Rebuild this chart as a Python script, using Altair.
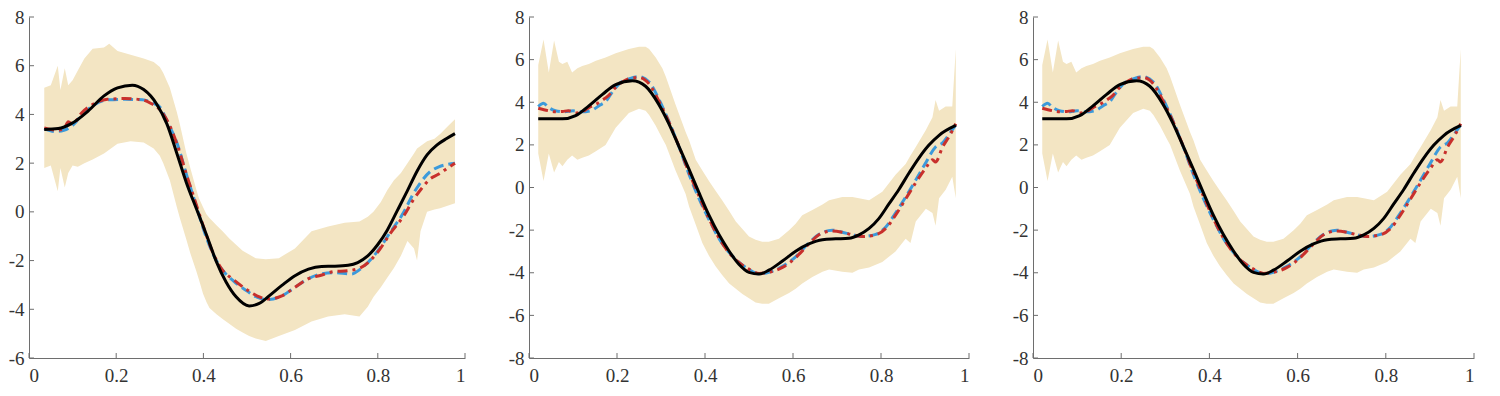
import altair as alt
import pandas as pd

# ---------------- data ----------------
x_ticks = [0, 0.2, 0.4, 0.6, 0.8, 1]
y_ticks_1 = [-6, -4, -2, 0, 2, 4, 6, 8]
y_ticks_2 = [-8, -6, -4, -2, 0, 2, 4, 6, 8]

# Panel 1 band
band1_x = [0.035, 0.05, 0.066, 0.072, 0.082, 0.09, 0.1, 0.112, 0.127, 0.146, 0.172, 0.184, 0.203, 0.233,
           0.263, 0.286, 0.3, 0.308, 0.323, 0.339, 0.346, 0.361, 0.37, 0.384, 0.39, 0.399, 0.407, 0.414,
           0.43, 0.444, 0.46, 0.475, 0.49, 0.505, 0.52, 0.543, 0.573, 0.61, 0.648, 0.686, 0.724, 0.758,
           0.777, 0.79, 0.807, 0.822, 0.837, 0.853, 0.868, 0.883, 0.89, 0.898, 0.913, 0.93, 0.943, 0.96, 0.977]
band1_hi = [5.1, 5.2, 6.0, 5.0, 5.9, 5.2, 5.4, 5.8, 6.3, 6.7, 6.75, 6.9, 6.6, 6.45,
            6.3, 6.15, 5.95, 5.7, 5.1, 4.1, 3.6, 2.4, 1.8, 0.9, 0.55, 0.2, -0.1, -0.25,
            -0.55, -0.8, -1.1, -1.35, -1.6, -1.75, -1.9, -1.95, -1.9, -1.5, -0.8, -0.6, -0.45, -0.4,
            -0.2, 0.0, 0.4, 0.9, 1.3, 1.6, 2.0, 2.4, 2.6, 2.7, 2.9, 3.0, 3.2, 3.5, 3.8]
band1_lo = [1.8, 1.9, 0.85, 1.8, 1.0, 1.6, 1.9, 1.85, 2.0, 2.15, 2.4, 2.55, 2.8, 2.9,
            2.85, 2.6, 2.3, 2.0, 1.3, 0.2, -0.25, -1.15, -1.7, -2.45, -2.8, -3.35, -3.7, -3.95,
            -4.2, -4.4, -4.6, -4.8, -4.95, -5.1, -5.2, -5.3, -5.1, -4.85, -4.5, -4.3, -4.2, -4.3,
            -3.9, -3.5, -3.1, -2.7, -2.3, -1.8, -1.2, -1.5, -2.0, -0.8, 0.0, 0.1, 0.15, 0.25, 0.35]

# Panel 1 true curve (black)
true1_x = [0.035, 0.067, 0.097, 0.135, 0.172, 0.203, 0.237, 0.263, 0.293, 0.316, 0.339, 0.361, 0.384,
           0.407, 0.429, 0.452, 0.475, 0.505, 0.528, 0.55, 0.58, 0.61, 0.641, 0.671, 0.701, 0.732, 0.754,
           0.777, 0.8, 0.822, 0.845, 0.868, 0.89, 0.913, 0.936, 0.958, 0.977]
true1_y = [3.38, 3.42, 3.62, 4.13, 4.76, 5.09, 5.2, 5.02, 4.42, 3.62, 2.41, 1.2, 0.13,
           -0.94, -2.01, -2.88, -3.49, -3.86, -3.76, -3.46, -3.02, -2.62, -2.35, -2.24, -2.23, -2.19, -2.08,
           -1.81, -1.34, -0.74, 0.06, 0.87, 1.67, 2.34, 2.75, 3.01, 3.21]

# Panel 1 estimate A (blue dashed)
estA1_x = [0.035, 0.06, 0.08, 0.1, 0.12, 0.15, 0.18, 0.22, 0.26, 0.28, 0.3, 0.32, 0.34, 0.36, 0.38, 0.4,
           0.42, 0.44, 0.47, 0.5, 0.53, 0.55, 0.58, 0.61, 0.64, 0.67, 0.7, 0.74, 0.76, 0.8, 0.83, 0.86,
           0.88, 0.9, 0.92, 0.94, 0.96, 0.977]
estA1_y = [3.42, 3.3, 3.35, 3.55, 3.95, 4.4, 4.6, 4.62, 4.6, 4.5, 4.3, 3.6, 2.8, 1.6, 0.45, -0.7,
           -1.65, -2.3, -2.85, -3.25, -3.55, -3.6, -3.45, -3.1, -2.75, -2.55, -2.5, -2.55, -2.35, -1.6, -0.8, 0.0,
           0.7, 1.25, 1.65, 1.85, 1.95, 2.0]

# Panel 1 estimate B (red dash-dot)
estB1_x = [0.035, 0.05, 0.065, 0.08, 0.09, 0.1, 0.12, 0.15, 0.18, 0.22, 0.26, 0.28, 0.3, 0.32, 0.34, 0.36,
           0.38, 0.4, 0.42, 0.44, 0.47, 0.5, 0.53, 0.55, 0.58, 0.61, 0.64, 0.67, 0.7, 0.73, 0.76, 0.8,
           0.83, 0.86, 0.88, 0.9, 0.92, 0.94, 0.96, 0.977]
estB1_y = [3.45, 3.38, 3.35, 3.4, 3.7, 3.6, 4.05, 4.45, 4.62, 4.65, 4.6, 4.45, 4.2, 3.65, 2.75, 1.6,
           0.5, -0.6, -1.6, -2.3, -2.8, -3.2, -3.5, -3.58, -3.45, -3.1, -2.75, -2.6, -2.45, -2.42, -2.3, -1.65,
           -0.85, -0.15, 0.45, 0.95, 1.35, 1.55, 1.8, 2.0]

# Panel 2 / 3 band
band2_x = [0.021, 0.033, 0.045, 0.057, 0.068, 0.076, 0.087, 0.098, 0.11, 0.121, 0.136, 0.152, 0.174, 0.197,
           0.227, 0.25, 0.265, 0.273, 0.288, 0.303, 0.311, 0.333, 0.356, 0.364, 0.379, 0.394, 0.409, 0.424,
           0.439, 0.455, 0.47, 0.485, 0.5, 0.515, 0.53, 0.545, 0.568, 0.591, 0.606, 0.621, 0.644, 0.667,
           0.682, 0.712, 0.735, 0.75, 0.773, 0.803, 0.833, 0.856, 0.867, 0.879, 0.902, 0.917, 0.924, 0.932,
           0.947, 0.962, 0.97]
band2_hi = [5.75, 6.95, 5.4, 6.9, 5.9, 5.8, 5.9, 5.4, 5.6, 5.7, 5.8, 5.95, 6.1, 6.3,
            6.5, 6.6, 6.6, 6.5, 6.1, 5.6, 5.2, 3.9, 2.6, 2.2, 1.3, 0.8, 0.3, -0.15,
            -0.6, -1.1, -1.6, -1.95, -2.3, -2.45, -2.55, -2.55, -2.4, -2.0, -1.7, -1.3, -1.05, -0.8,
            -0.6, -0.45, -0.45, -0.5, -0.6, -0.2, 0.6, 1.1, 1.5, 1.9, 2.7, 3.3, 4.1, 3.6,
            3.8, 3.8, 6.5]
band2_lo = [1.6, 0.3, 1.6, 0.7, 1.2, 1.0, 1.3, 1.5, 1.3, 1.4, 1.5, 1.7, 2.0, 2.8,
            3.5, 3.7, 3.6, 3.4, 2.9, 2.3, 2.0, 0.8, -0.3, -0.9, -1.75, -2.6, -3.2, -3.7,
            -4.1, -4.5, -4.75, -5.0, -5.2, -5.4, -5.45, -5.45, -5.2, -4.95, -4.75, -4.5, -4.2, -3.95,
            -3.85, -3.95, -4.0, -3.85, -3.75, -3.5, -3.0, -2.4, -2.6, -1.6, -1.0, -1.2, -1.8, -0.5,
            -0.1, 0.5, -0.5]

true2_x = [0.021, 0.076, 0.106, 0.136, 0.167, 0.197, 0.235, 0.265, 0.295, 0.318, 0.341, 0.364, 0.386,
           0.409, 0.432, 0.455, 0.477, 0.5, 0.523, 0.545, 0.576, 0.606, 0.636, 0.667, 0.697, 0.727, 0.75,
           0.773, 0.795, 0.818, 0.841, 0.864, 0.886, 0.909, 0.932, 0.97]
true2_y = [3.22, 3.22, 3.37, 3.83, 4.37, 4.83, 5.01, 4.75, 3.9, 2.99, 1.92, 0.84, -0.23,
           -1.3, -2.22, -2.99, -3.6, -3.98, -4.06, -3.88, -3.45, -2.99, -2.65, -2.45, -2.41, -2.38, -2.22,
           -1.92, -1.46, -0.77, -0.08, 0.69, 1.38, 1.99, 2.45, 2.91]

estA2_x = [0.021, 0.033, 0.045, 0.06, 0.08, 0.1, 0.12, 0.14, 0.16, 0.175, 0.19, 0.21, 0.227, 0.25, 0.273,
           0.295, 0.318, 0.341, 0.364, 0.386, 0.409, 0.432, 0.455, 0.477, 0.5, 0.523, 0.545, 0.576, 0.606,
           0.636, 0.659, 0.689, 0.712, 0.735, 0.758, 0.788, 0.811, 0.833, 0.856, 0.879, 0.9, 0.924, 0.94,
           0.955, 0.97]
estA2_y = [3.8, 3.95, 3.75, 3.6, 3.55, 3.6, 3.55, 3.6, 3.85, 4.05, 4.5, 4.95, 5.1, 5.2, 4.95,
           4.15, 3.1, 1.9, 0.6, -0.5, -1.5, -2.4, -3.05, -3.5, -3.85, -4.05, -3.98, -3.7, -3.25,
           -2.6, -2.2, -2.0, -2.1, -2.22, -2.3, -2.2, -1.85, -1.2, -0.45, 0.35, 1.1, 1.9, 2.1,
           2.5, 2.95]

estB2_x = [0.021, 0.045, 0.06, 0.076, 0.09, 0.106, 0.12, 0.136, 0.152, 0.167, 0.18, 0.197, 0.212, 0.227,
           0.25, 0.273, 0.295, 0.318, 0.341, 0.364, 0.386, 0.409, 0.432, 0.455, 0.477, 0.5, 0.523, 0.545,
           0.576, 0.606, 0.636, 0.659, 0.689, 0.712, 0.735, 0.758, 0.788, 0.811, 0.833, 0.856, 0.879, 0.902,
           0.917, 0.924, 0.94, 0.955, 0.97]
estB2_y = [3.72, 3.6, 3.55, 3.57, 3.6, 3.5, 3.55, 3.75, 3.9, 4.1, 4.3, 4.7, 4.95, 5.1,
           5.16, 4.86, 4.06, 3.07, 1.92, 0.69, -0.38, -1.46, -2.38, -3.07, -3.52, -3.83, -4.03, -3.98,
           -3.75, -3.29, -2.65, -2.22, -2.04, -2.1, -2.22, -2.3, -2.22, -1.92, -1.3, -0.54, 0.23, 0.92,
           1.3, 1.2, 1.9, 2.4, 2.99]

# Panel 3 shows the same curves as panel 2
band3_x, band3_hi, band3_lo = band2_x, band2_hi, band2_lo
true3_x, true3_y = true2_x, true2_y
estA3_x, estA3_y = estA2_x, estA2_y
estB3_x, estB3_y = estB2_x, estB2_y

# ---------------- styling ----------------
BAND = "#F3E5C3"
BLACK = "#000000"
BLUE = "#3C9ADB"
RED = "#C8302C"
AXIS_C = "#6E6E6E"
LABEL_C = "#333333"
FONT = "Liberation Serif"
H = 341
TICK = 5
LABEL_EXPR = "'' + datum.value"


def panel(width, ydom, yticks, bx, bhi, blo, tx, ty, ax, ay, rx, ry):
    xs = alt.Scale(domain=[0, 1], nice=False, zero=False)
    ys = alt.Scale(domain=ydom, nice=False, zero=False)
    xaxis = alt.Axis(values=x_ticks, labelExpr=LABEL_EXPR, title=None, grid=False,
                     tickSize=0, labelPadding=8, labelFont=FONT, labelFontSize=19, labelColor=LABEL_C,
                     domainColor=AXIS_C, domainWidth=1, labelOverlap=False)
    yaxis = alt.Axis(values=yticks, labelExpr=LABEL_EXPR, title=None, grid=False,
                     tickSize=0, labelPadding=5, labelFont=FONT, labelFontSize=19, labelColor=LABEL_C,
                     domainColor=AXIS_C, domainWidth=1, labelOverlap=False)

    def X(field):
        return alt.X(field, scale=xs, axis=xaxis)

    def Y(field):
        return alt.Y(field, scale=ys, axis=yaxis)

    band = alt.Chart(pd.DataFrame({"x": bx, "hi": bhi, "lo": blo})).mark_area(
        color=BAND, opacity=1).encode(x=X("x:Q"), y=Y("hi:Q"), y2="lo:Q")

    def line(xv, yv, color, dash=None):
        kw = dict(color=color, strokeWidth=3)
        if dash:
            kw["strokeDash"] = dash
        return alt.Chart(pd.DataFrame({"x": xv, "y": yv})).mark_line(**kw, interpolate="monotone").encode(
            x=X("x:Q"), y=Y("y:Q"))

    blue = line(ax, ay, BLUE, [10, 5])
    red = line(rx, ry, RED, [10, 5, 3, 5])
    black = line(tx, ty, BLACK)

    ytk = alt.Chart(pd.DataFrame({"v": yticks})).mark_rule(color=AXIS_C, strokeWidth=1).encode(
        y=Y("v:Q"), x=alt.value(0), x2=alt.value(TICK))
    xtk = alt.Chart(pd.DataFrame({"x": x_ticks})).mark_rule(color=AXIS_C, strokeWidth=1).encode(
        x=X("x:Q"), y=alt.value(H), y2=alt.value(H - TICK))

    return alt.layer(band, blue, red, black, ytk, xtk).properties(width=width, height=H)


p1 = panel(436, [-6, 8], y_ticks_1, band1_x, band1_hi, band1_lo, true1_x, true1_y,
           estA1_x, estA1_y, estB1_x, estB1_y)
p2 = panel(440, [-8, 8], y_ticks_2, band2_x, band2_hi, band2_lo, true2_x, true2_y,
           estA2_x, estA2_y, estB2_x, estB2_y)
p3 = panel(441, [-8, 8], y_ticks_2, band3_x, band3_hi, band3_lo, true3_x, true3_y,
           estA3_x, estA3_y, estB3_x, estB3_y)

chart = alt.hconcat(p1, p2, p3, spacing=42).properties(
    padding={"left": 0, "top": 0, "right": 0, "bottom": 0},
    background="white"
).configure_view(stroke=None)

chart.save("out.html", embed_options={"renderer": "svg", "actions": False})
